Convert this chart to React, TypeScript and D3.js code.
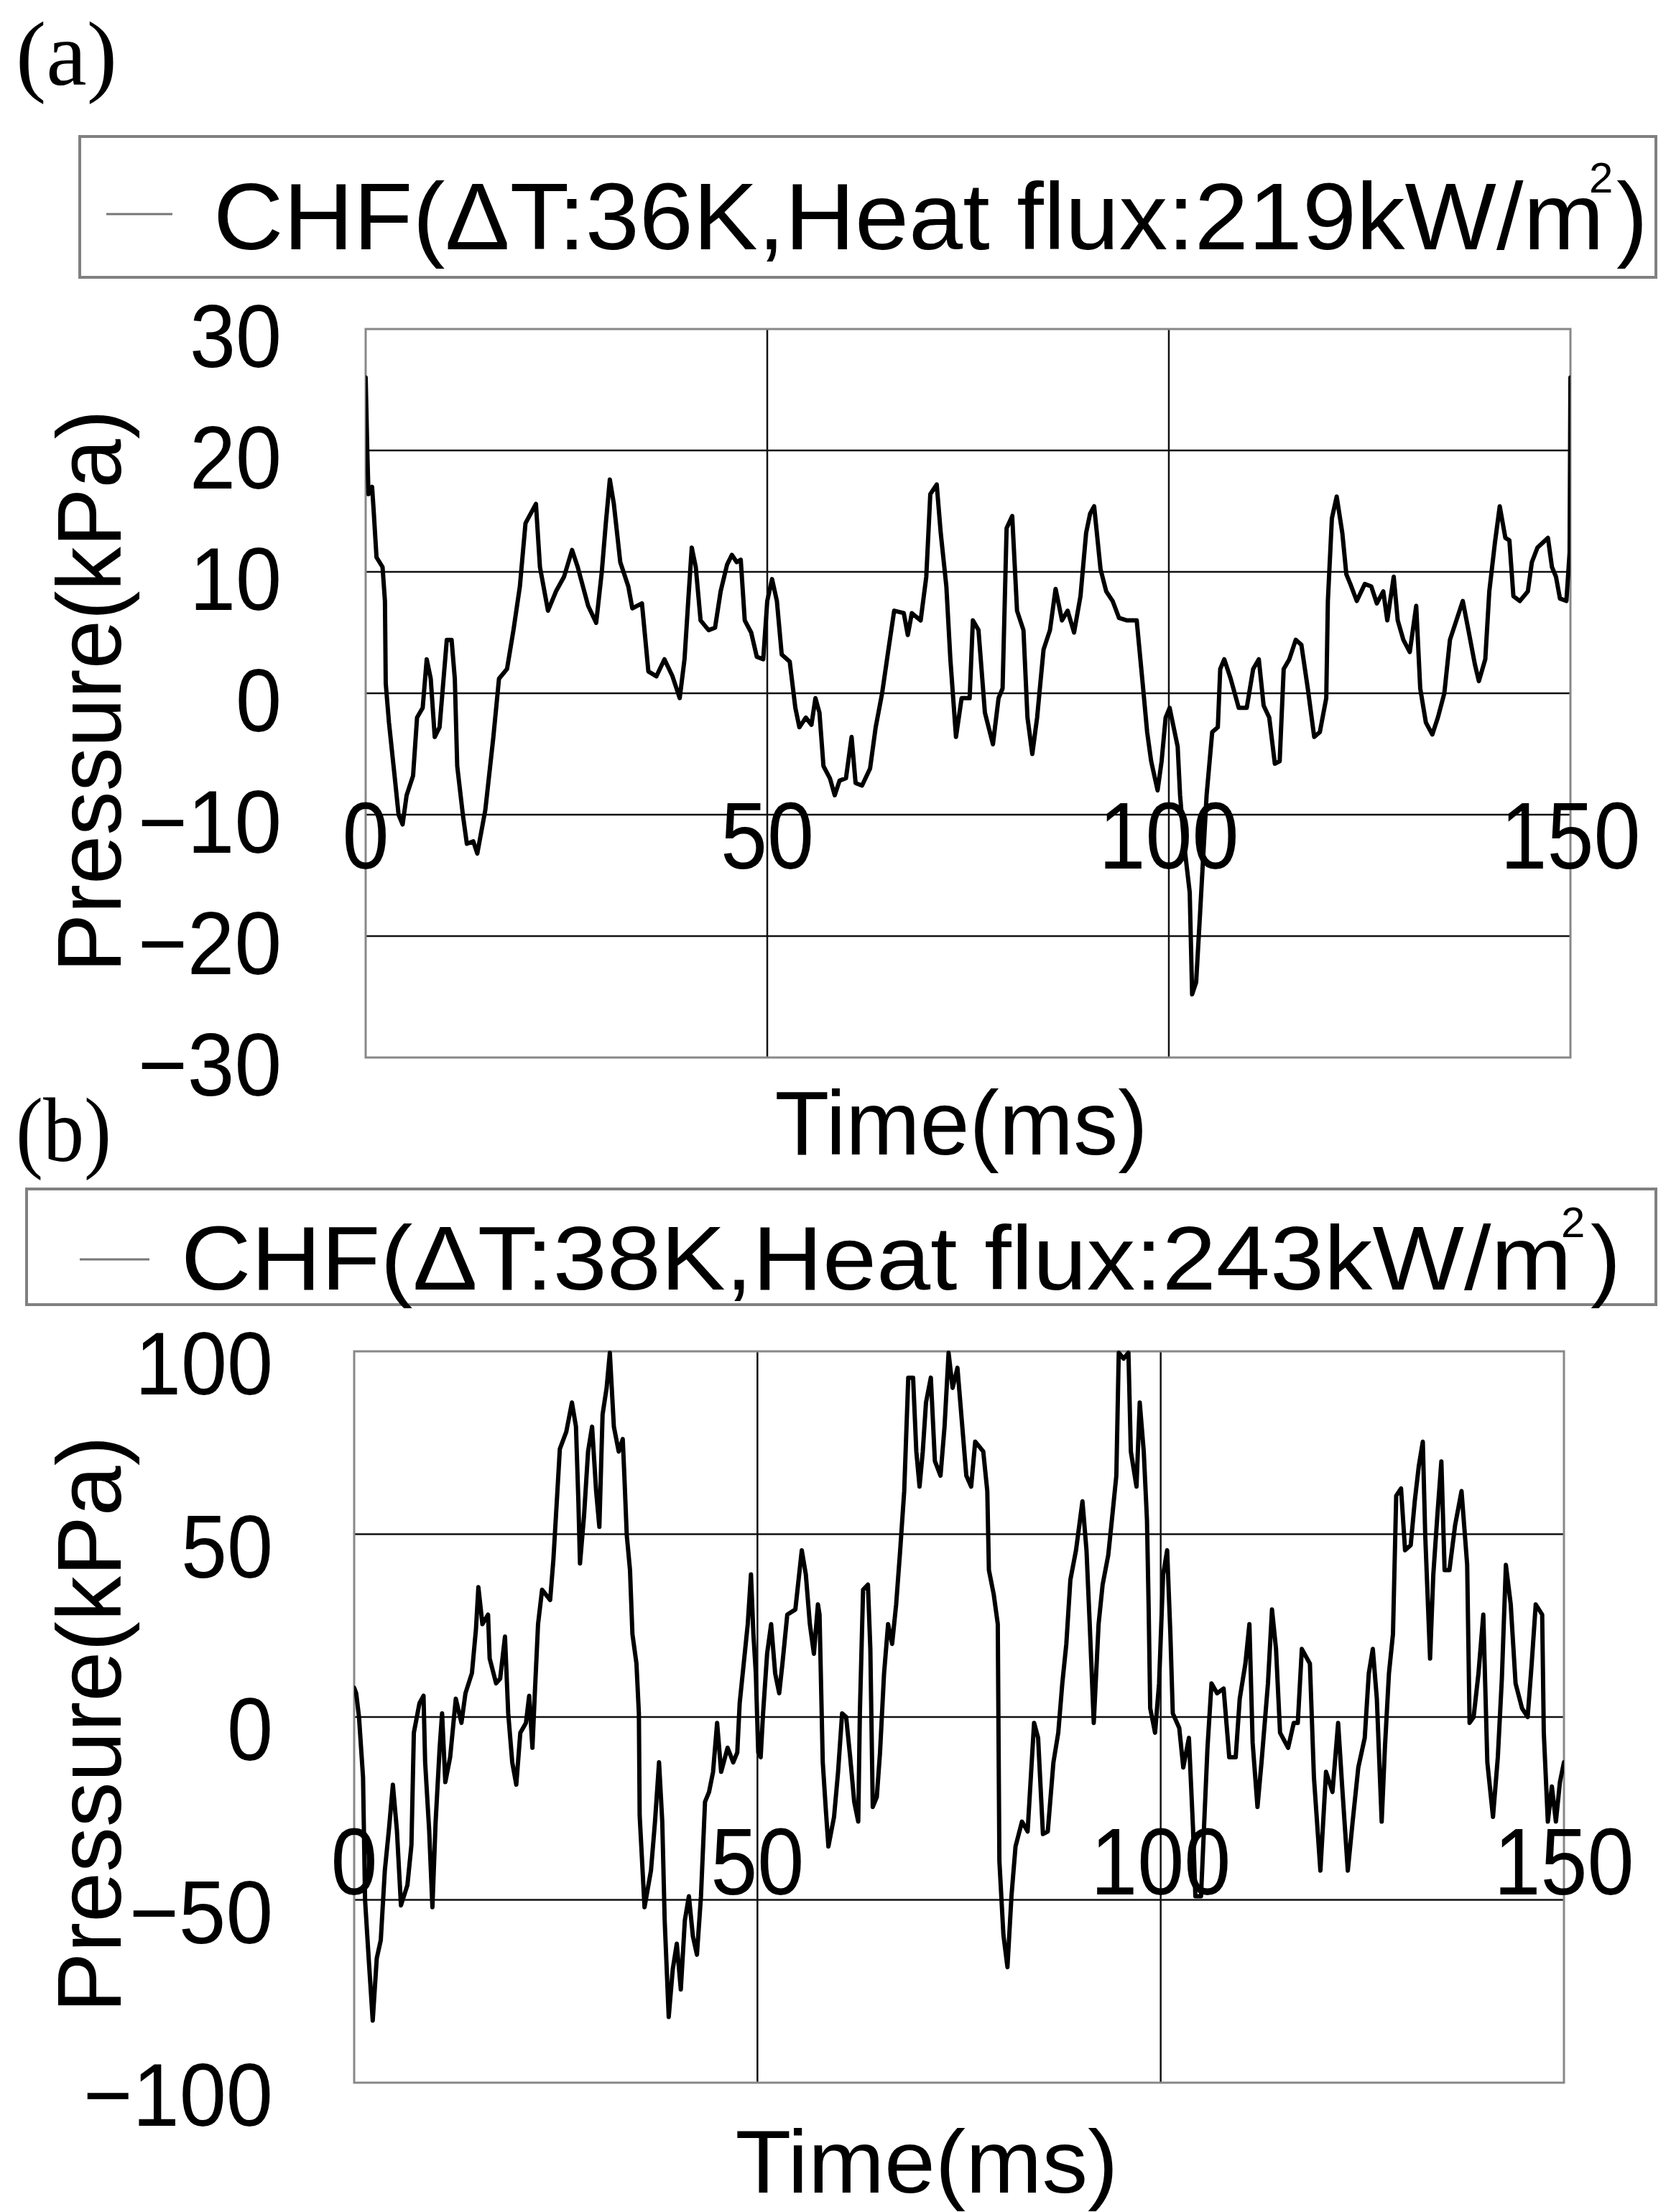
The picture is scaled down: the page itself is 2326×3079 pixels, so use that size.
import React from "react";
import * as d3 from "d3";

// ---------------- DATA ----------------
const xTicks = [0, 50, 100, 150];
const xGridValues = [50, 100];

const yTicksA = [30, 20, 10, 0, -10, -20, -30];
const yGridA = [20, 10, 0, -10, -20];
const yTicksB = [100, 50, 0, -50, -100];
const yGridB = [50, 0, -50];

const panelLabels = ["(a)", "(b)"];
const legendTextA = "CHF(ΔT:36K,Heat flux:219kW/m";
const legendTextB = "CHF(ΔT:38K,Heat flux:243kW/m";
const yTitle = "Pressure(kPa)";
const xTitle = "Time(ms)";

const timeA = [
  0, 0.2, 0.35, 0.8, 1.0, 1.35, 2.1, 2.4, 2.5, 2.9, 3.6, 4.1, 4.6, 5.1, 5.9, 6.4, 7.1, 7.6, 8.1, 8.6,
  9.2, 9.6, 10.1, 10.7, 11.1, 11.4, 12.1, 12.6, 13.4, 13.9, 14.9, 15.9, 16.6, 17.6, 18.4, 19.2, 19.9, 21.2, 21.7, 22.7,
  23.7, 24.7, 25.7, 26.4, 27.7, 28.7, 29.4, 29.9, 30.4, 30.9, 31.7, 32.7, 33.2, 34.4, 35.2, 36.2, 37.2, 38.2, 39.1, 39.7,
  40.2, 40.6, 41.1, 41.7, 42.7, 43.5, 44.2, 45, 45.6, 46.2, 46.7, 47.2, 48, 48.7, 49.5, 50, 50.6, 51.2, 51.8, 52.8,
  53.5, 54, 54.8, 55.5, 56, 56.5, 57, 57.8, 58.4, 59, 59.8, 60.5, 61, 61.8, 62.8, 63.5, 64.3, 65, 65.8, 67,
  67.5, 68, 69.1, 69.8, 70.3, 71.1, 71.6, 72.3, 72.8, 73.5, 74.2, 75.2, 75.6, 76.3, 77.1, 78.1, 78.8, 79.3, 79.8, 80.5,
  81.1, 81.9, 82.4, 83, 83.6, 84.4, 85.2, 85.9, 86.7, 87.4, 88.2, 89, 89.7, 90.2, 90.7, 91.5, 92.2, 93, 93.8, 94.8,
  96, 96.8, 97.3, 97.8, 98.6, 99.1, 99.6, 100.1, 100.6, 101.1, 101.4, 101.9, 102.6, 102.9, 103.4, 103.9, 104.7, 105.4, 106.1, 106.4,
  106.9, 107.7, 108.7, 109.7, 110.5, 111.2, 111.8, 112.5, 113.2, 113.8, 114.3, 115, 115.8, 116.5, 117.3, 118.1, 118.8, 119.6, 119.8, 120.3,
  120.9, 121.6, 122.1, 122.6, 123.4, 124.4, 125.2, 125.9, 126.7, 127.2, 128, 128.5, 129.2, 130, 130.8, 131.3, 132, 132.8, 133.5, 134.3,
  135, 135.8, 136.6, 137.3, 138.1, 138.6, 139.4, 139.9, 140.6, 141.2, 141.9, 142.4, 142.9, 143.7, 144.7, 145.2, 145.9, 147.2, 147.7, 148.2,
  148.7, 149.5, 149.9, 150,
];
const pressureA = [
  26, 20, 16.4, 17, 15, 11.2, 10.4, 7.6, 0.8, -2.4, -6.8, -10, -10.8, -8.4, -6.8, -2, -1.2, 2.8, 1.2, -3.6,
  -2.8, 0.4, 4.4, 4.4, 1.2, -6, -10, -12.4, -12.2, -13.2, -9.6, -3.6, 1.2, 2, 5.2, 8.8, 14, 15.6, 10.4, 6.8,
  8.4, 9.6, 11.8, 10.4, 7.2, 5.8, 10, 14, 17.6, 15.6, 10.8, 8.8, 7, 7.4, 1.8, 1.4, 2.8, 1.4, -0.4, 2.8,
  8, 12, 10.4, 6, 5.2, 5.4, 8.4, 10.6, 11.4, 10.8, 11, 6, 5, 3, 2.8, 7.6, 9.4, 7.6, 3.2, 2.6,
  -1.2, -2.8, -2, -2.6, -0.4, -1.6, -6, -7, -8.4, -7.2, -7, -3.6, -7.4, -7.6, -6.2, -2.8, 0, 3.2, 6.8, 6.6,
  4.8, 6.6, 6, 9.6, 16.4, 17.2, 13.2, 8.8, 2.8, -3.6, -0.4, -0.4, 6, 5.2, -1.6, -4.2, -0.4, 0.4, 13.6, 14.6,
  6.8, 5.2, -2, -5, -2, 3.6, 5.2, 8.6, 6, 6.8, 5, 8, 13.2, 14.8, 15.4, 10.2, 8.4, 7.6, 6.2, 6,
  6, 0.4, -3.2, -5.6, -8, -5.6, -2, -1.2, -2.8, -4.4, -8.4, -12.4, -16.4, -24.8, -23.8, -18, -8.4, -3.2, -2.8, 2,
  2.8, 1.2, -1.2, -1.2, 2, 2.8, -1, -2, -5.8, -5.6, 2, 2.8, 4.4, 4, 0.4, -3.6, -3.2, -0.4, 7.6, 14.4,
  16.2, 13.2, 9.8, 9, 7.6, 9, 8.8, 7.4, 8.4, 6, 9.6, 6, 4.4, 3.4, 7.2, 0.4, -2.4, -3.4, -2, 0,
  4.4, 6, 7.6, 5.2, 2.4, 1, 2.8, 8.4, 12.4, 15.4, 12.8, 12.6, 8, 7.6, 8.4, 10.8, 12, 12.8, 10.4, 9.6,
  7.8, 7.6, 11.6, 26,
];

const timeB = [
  0, 0.25, 0.6, 1.1, 1.35, 1.8, 2.3, 2.8, 3.3, 3.8, 4.3, 4.8, 5.3, 5.8, 6.6, 7.1, 7.4, 8.1, 8.6, 8.8,
  9.3, 9.7, 10.1, 10.6, 10.9, 11.3, 11.9, 12.6, 13.3, 13.8, 14.6, 15.1, 15.4, 15.9, 16.6, 16.8, 17.6, 18.1, 18.7, 19.1,
  19.6, 20.1, 20.6, 21.3, 21.7, 22.1, 22.4, 22.8, 23.3, 24.3, 24.7, 25.2, 25.5, 26.3, 27, 27.5, 27.8, 28, 28.5, 29,
  29.5, 30, 30.4, 30.8, 31.3, 31.7, 32.2, 32.8, 33.3, 33.5, 33.8, 34.2, 34.5, 35, 35.3, 35.4, 36, 36.8, 37.3, 37.8,
  38.2, 38.5, 39, 39.5, 40, 40.5, 41, 41.5, 42, 42.5, 43, 43.5, 44, 44.5, 45, 45.5, 46.3, 47, 47.5, 47.8,
  48.3, 48.8, 49.2, 49.5, 49.8, 50.1, 50.4, 50.7, 51.2, 51.7, 52.2, 52.7, 53.1, 53.7, 54.7, 55.5, 56, 56.5, 57, 57.5,
  57.7, 58.1, 58.5, 58.8, 59.5, 60, 60.5, 61, 61.5, 62, 62.5, 62.7, 63.1, 63.7, 64, 64.3, 64.8, 65.2, 65.7, 66.2,
  66.7, 67.2, 67.7, 68.2, 68.7, 69.3, 69.7, 70.1, 70.5, 70.9, 71.5, 72, 72.7, 73.2, 73.7, 74.2, 74.8, 75.4, 75.9, 76.5,
  77, 78, 78.5, 78.7, 79.3, 79.8, 80, 80.5, 81, 81.5, 82, 82.8, 83.5, 84.3, 84.8, 85.4, 86, 86.7, 87.3, 87.8,
  88.3, 88.8, 89.5, 90.3, 90.8, 91.2, 91.7, 92.3, 92.8, 93.5, 94, 94.5, 94.8, 95.4, 96, 96.3, 97, 97.4, 97.9, 98.3,
  98.5, 98.7, 99.3, 99.8, 100.3, 100.8, 101.2, 101.5, 102.3, 102.8, 103.5, 104, 104.3, 105, 105.8, 106.3, 107, 107.8, 108.5, 109.3,
  109.8, 110.5, 111, 111.4, 112, 112.5, 113.3, 113.8, 114.3, 114.8, 115.8, 116.5, 117, 117.5, 118.5, 119, 119.8, 120.5, 121.3, 122,
  122.5, 123.2, 123.8, 124.5, 125.3, 125.8, 126.3, 126.8, 127.4, 127.8, 128.3, 128.8, 129.2, 129.8, 130.3, 131, 131.5, 132, 132.5, 132.8,
  133.4, 133.8, 134.3, 134.8, 135.2, 135.8, 136.5, 137.3, 138, 138.3, 138.8, 139.4, 140, 140.5, 141.2, 141.8, 142.3, 142.8, 143.4, 144,
  144.8, 145.5, 146, 146.5, 147.3, 147.5, 148, 148.5, 149, 149.5, 150,
];
const pressureB = [
  8, 6.5, 0, -16.5, -50, -66, -83, -66, -61, -42, -31, -18.5, -31, -51.5, -46, -35, -4.3, 3.8, 5.8, -12.4,
  -31, -52, -28.6, -8.4, 1, -17.8, -11, 5, -1.6, 6.5, 12, 24, 35.5, 25.4, 28, 16, 9.2, 10.5, 22, 1,
  -12.4, -18.5, -4.3, -1.6, 5.8, -8.4, 6.5, 25.4, 34.8, 32, 43, 61.8, 73.3, 78, 86, 79.4, 59, 42, 55, 72.6,
  79.4, 61.8, 52, 82.7, 90, 99.6, 79.4, 72.6, 76, 66, 49.7, 40.2, 22.7, 14.6, 1, -27, -52, -42, -28.6, -12.4,
  -28.6, -55.6, -82, -69, -62, -74.5, -55.6, -49, -60, -65, -49, -23.2, -20.5, -15, -1.6, -15, -8.4, -12.4, -9.7, 3.8,
  14.6, 25.4, 39, 22.7, 11.9, -9.7, -11, 1, 17.3, 25.4, 11.9, 6.5, 14.6, 28, 29.4, 45.6, 39, 25.4, 17.3, 30.8,
  28, -12.4, -26, -35.4, -27.3, -15, 1, 0, -11, -23.2, -28.6, 1, 34.8, 36.2, 18.6, -24.6, -21.9, -9.7, 11.9, 25.4,
  20, 30.8, 45.6, 61.8, 92.8, 92.8, 72.6, 63, 72.6, 86, 92.8, 70, 66, 79.4, 99.6, 90, 95.5, 79.4, 66, 63,
  75.3, 72.6, 61.8, 40.2, 33.5, 25.4, -39.4, -59.6, -68.4, -48.9, -35.4, -28.6, -31.3, -1.6, -5.7, -32, -31.3, -12.4, -4.3, 9.2,
  20, 37.5, 45.6, 59, 45.6, 25.4, -1.6, 25.4, 36.2, 44.3, 55, 66, 99.6, 98, 99.6, 72.6, 63, 86, 72.6, 53.8,
  30.8, 2.4, -4.3, 9.2, 38.9, 45.6, 22.7, 1, -3, -13.8, -5.7, -30, -49, -49, -8.4, 9.2, 6.5, 7.8, -11, -11,
  5, 14.6, 25.4, -7, -24.6, -12.4, 9.2, 29.4, 18.6, -4.3, -8.4, -1.6, -1.6, 18.6, 14.6, -16.5, -42, -15, -20.5, -1.6,
  -19, -42, -28.6, -13.8, -5.7, 11.9, 18.6, 5, -28.6, -8.4, 11.9, 22.7, 60.5, 62.5, 45.6, 47, 59, 68.6, 75.3, 49.7,
  16, 38.9, 55, 69.9, 40.2, 40.2, 52.4, 61.8, 41.6, -1.6, 0, 11.9, 28, -12.4, -27.3, -11, 10.5, 41.6, 30.8, 9.2,
  2.4, 0, 14.6, 30.8, 28, -4.3, -28.6, -19, -28.6, -17.8, -12.4,
];

// ---------------- LAYOUT ----------------
const W = 2326;
const H = 3079;
const FONT = "'Liberation Sans', Arial, sans-serif";
const SERIF = "'Liberation Serif', 'Times New Roman', serif";

const fmt = (v: number) => (v < 0 ? "\u2212" + Math.abs(v) : String(v));
const labelLen = (s: string, digitW: number, minusW: number) =>
  s.split("").reduce((a, c) => a + (c === "\u2212" ? minusW : digitW), 0);

type PanelCfg = {
  id: string;
  left: number;
  right: number;
  top: number;
  bottom: number;
  yDomain: [number, number];
  yTicks: number[];
  yGrid: number[];
  yLabelRight: number;
  yLabelDy: number;
  xLabelRefValue: number;
  xLabelDy: number;
  yTitleCy: number;
  yTitleLen: number;
  xTitleCx: number;
  xTitleY: number;
  xTitleLen: number;
  xTitleFs: number;
  label: string;
  labelX: number;
  labelY: number;
  labelLen: number;
  legend: {
    x0: number; x1: number; y0: number; y1: number;
    sx0: number; sx1: number; sy: number;
    tx: number; ty: number; tlen: number; fs: number;
    supX: number; supY: number; parX: number;
    text: string;
  };
};

const cfgA: PanelCfg = {
  id: "a",
  left: 509, right: 2186, top: 458, bottom: 1472,
  yDomain: [-30, 30],
  yTicks: yTicksA, yGrid: yGridA,
  yLabelRight: 392, yLabelDy: 53,
  xLabelRefValue: -10, xLabelDy: 75,
  yTitleCy: 962, yTitleLen: 783,
  xTitleCx: 1338, xTitleY: 1607, xTitleLen: 519, xTitleFs: 126,
  label: panelLabels[0], labelX: 22, labelY: 118, labelLen: 141,
  legend: {
    x0: 111, x1: 2305, y0: 190, y1: 386,
    sx0: 148, sx1: 240, sy: 298,
    tx: 297, ty: 347, tlen: 1936, fs: 131,
    supX: 2212, supY: 268, parX: 2250,
    text: legendTextA,
  },
};

const cfgB: PanelCfg = {
  id: "b",
  left: 493, right: 2177, top: 1881, bottom: 2899,
  yDomain: [-100, 100],
  yTicks: yTicksB, yGrid: yGridB,
  yLabelRight: 380, yLabelDy: 60,
  xLabelRefValue: -50, xLabelDy: -8,
  yTitleCy: 2400, yTitleLen: 803,
  xTitleCx: 1290, xTitleY: 3052, xTitleLen: 533, xTitleFs: 124,
  label: panelLabels[1], labelX: 22, labelY: 1616, labelLen: 133,
  legend: {
    x0: 37, x1: 2305, y0: 1655, y1: 1816,
    sx0: 111, sx1: 208, sy: 1753,
    tx: 252, ty: 1795, tlen: 1936, fs: 126,
    supX: 2173, supY: 1722, parX: 2214,
    text: legendTextB,
  },
};

function Panel({ cfg, times, values }: { cfg: PanelCfg; times: number[]; values: number[] }) {
  const x = d3.scaleLinear().domain([0, 150]).range([cfg.left, cfg.right]);
  const y = d3.scaleLinear().domain(cfg.yDomain).range([cfg.bottom, cfg.top]);
  const pts: [number, number][] = times.map((t, i) => [t, values[i]]);
  const lineGen = d3
    .line<[number, number]>()
    .x((d) => x(d[0]))
    .y((d) => y(d[1]));
  const path = lineGen(pts) || "";
  const lg = cfg.legend;
  const clipId = "clip-" + cfg.id;

  return (
    <g>
      {/* panel label */}
      <text
        x={cfg.labelX}
        y={cfg.labelY}
        fontFamily={SERIF}
        fontSize={128}
        textLength={cfg.labelLen}
        lengthAdjust="spacingAndGlyphs"
        fill="#000"
      >
        {cfg.label}
      </text>

      {/* legend */}
      <rect
        x={lg.x0}
        y={lg.y0}
        width={lg.x1 - lg.x0}
        height={lg.y1 - lg.y0}
        fill="none"
        stroke="#808080"
        strokeWidth={4}
      />
      <line x1={lg.sx0} x2={lg.sx1} y1={lg.sy} y2={lg.sy} stroke="#777" strokeWidth={3} />
      <text
        x={lg.tx}
        y={lg.ty}
        fontFamily={FONT}
        fontSize={lg.fs}
        textLength={lg.tlen}
        lengthAdjust="spacingAndGlyphs"
        fill="#000"
      >
        {lg.text}
      </text>
      <text x={lg.supX} y={lg.supY} fontFamily={FONT} fontSize={60} fill="#000">
        2
      </text>
      <text x={lg.parX} y={lg.ty} fontFamily={FONT} fontSize={lg.fs} fill="#000">
        )
      </text>

      <defs>
        <clipPath id={clipId}>
          <rect x={cfg.left} y={cfg.top - 2} width={cfg.right - cfg.left} height={cfg.bottom - cfg.top + 4} />
        </clipPath>
      </defs>

      {/* horizontal grid */}
      {cfg.yGrid.map((v) => (
        <line
          key={"hg" + v}
          x1={cfg.left}
          x2={cfg.right}
          y1={y(v)}
          y2={y(v)}
          stroke="#111"
          strokeWidth={2.5}
        />
      ))}
      {/* vertical grid */}
      {xGridValues.map((v) => (
        <line
          key={"vg" + v}
          x1={x(v)}
          x2={x(v)}
          y1={cfg.top}
          y2={cfg.bottom}
          stroke="#111"
          strokeWidth={2.5}
        />
      ))}
      {/* frame */}
      <rect
        x={cfg.left}
        y={cfg.top}
        width={cfg.right - cfg.left}
        height={cfg.bottom - cfg.top}
        fill="none"
        stroke="#888"
        strokeWidth={3}
      />

      {/* x tick labels (drawn inside the plot) */}
      {xTicks.map((v) => {
        const s = fmt(v);
        return (
          <text
            key={"xt" + v}
            x={x(v)}
            y={y(cfg.xLabelRefValue) + cfg.xLabelDy}
            textAnchor="middle"
            fontFamily={FONT}
            fontSize={132}
            textLength={labelLen(s, 65, 70)}
            lengthAdjust="spacingAndGlyphs"
            fill="#000"
          >
            {s}
          </text>
        );
      })}

      {/* data line */}
      <path
        d={path}
        fill="none"
        stroke="#000"
        strokeWidth={6}
        strokeLinejoin="round"
        strokeLinecap="round"
        clipPath={`url(#${clipId})`}
      />

      {/* y tick labels */}
      {cfg.yTicks.map((v) => {
        const s = fmt(v);
        return (
          <text
            key={"yt" + v}
            x={cfg.yLabelRight}
            y={y(v) + cfg.yLabelDy}
            textAnchor="end"
            fontFamily={FONT}
            fontSize={124}
            textLength={labelLen(s, 64, 72)}
            lengthAdjust="spacingAndGlyphs"
            fill="#000"
          >
            {s}
          </text>
        );
      })}

      {/* y title */}
      <text
        transform={`translate(168,${cfg.yTitleCy}) rotate(-90)`}
        textAnchor="middle"
        fontFamily={FONT}
        fontSize={127}
        textLength={cfg.yTitleLen}
        lengthAdjust="spacingAndGlyphs"
        fill="#000"
      >
        {yTitle}
      </text>

      {/* x title */}
      <text
        x={cfg.xTitleCx}
        y={cfg.xTitleY}
        textAnchor="middle"
        fontFamily={FONT}
        fontSize={cfg.xTitleFs}
        textLength={cfg.xTitleLen}
        lengthAdjust="spacingAndGlyphs"
        fill="#000"
      >
        {xTitle}
      </text>
    </g>
  );
}

export default function App() {
  return (
    <svg
      width={W}
      height={H}
      viewBox={`0 0 ${W} ${H}`}
      style={{ position: "absolute", left: 0, top: 0, display: "block", background: "#fff" }}
    >
      <rect x={0} y={0} width={W} height={H} fill="#fff" />
      <Panel cfg={cfgA} times={timeA} values={pressureA} />
      <Panel cfg={cfgB} times={timeB} values={pressureB} />
    </svg>
  );
}
